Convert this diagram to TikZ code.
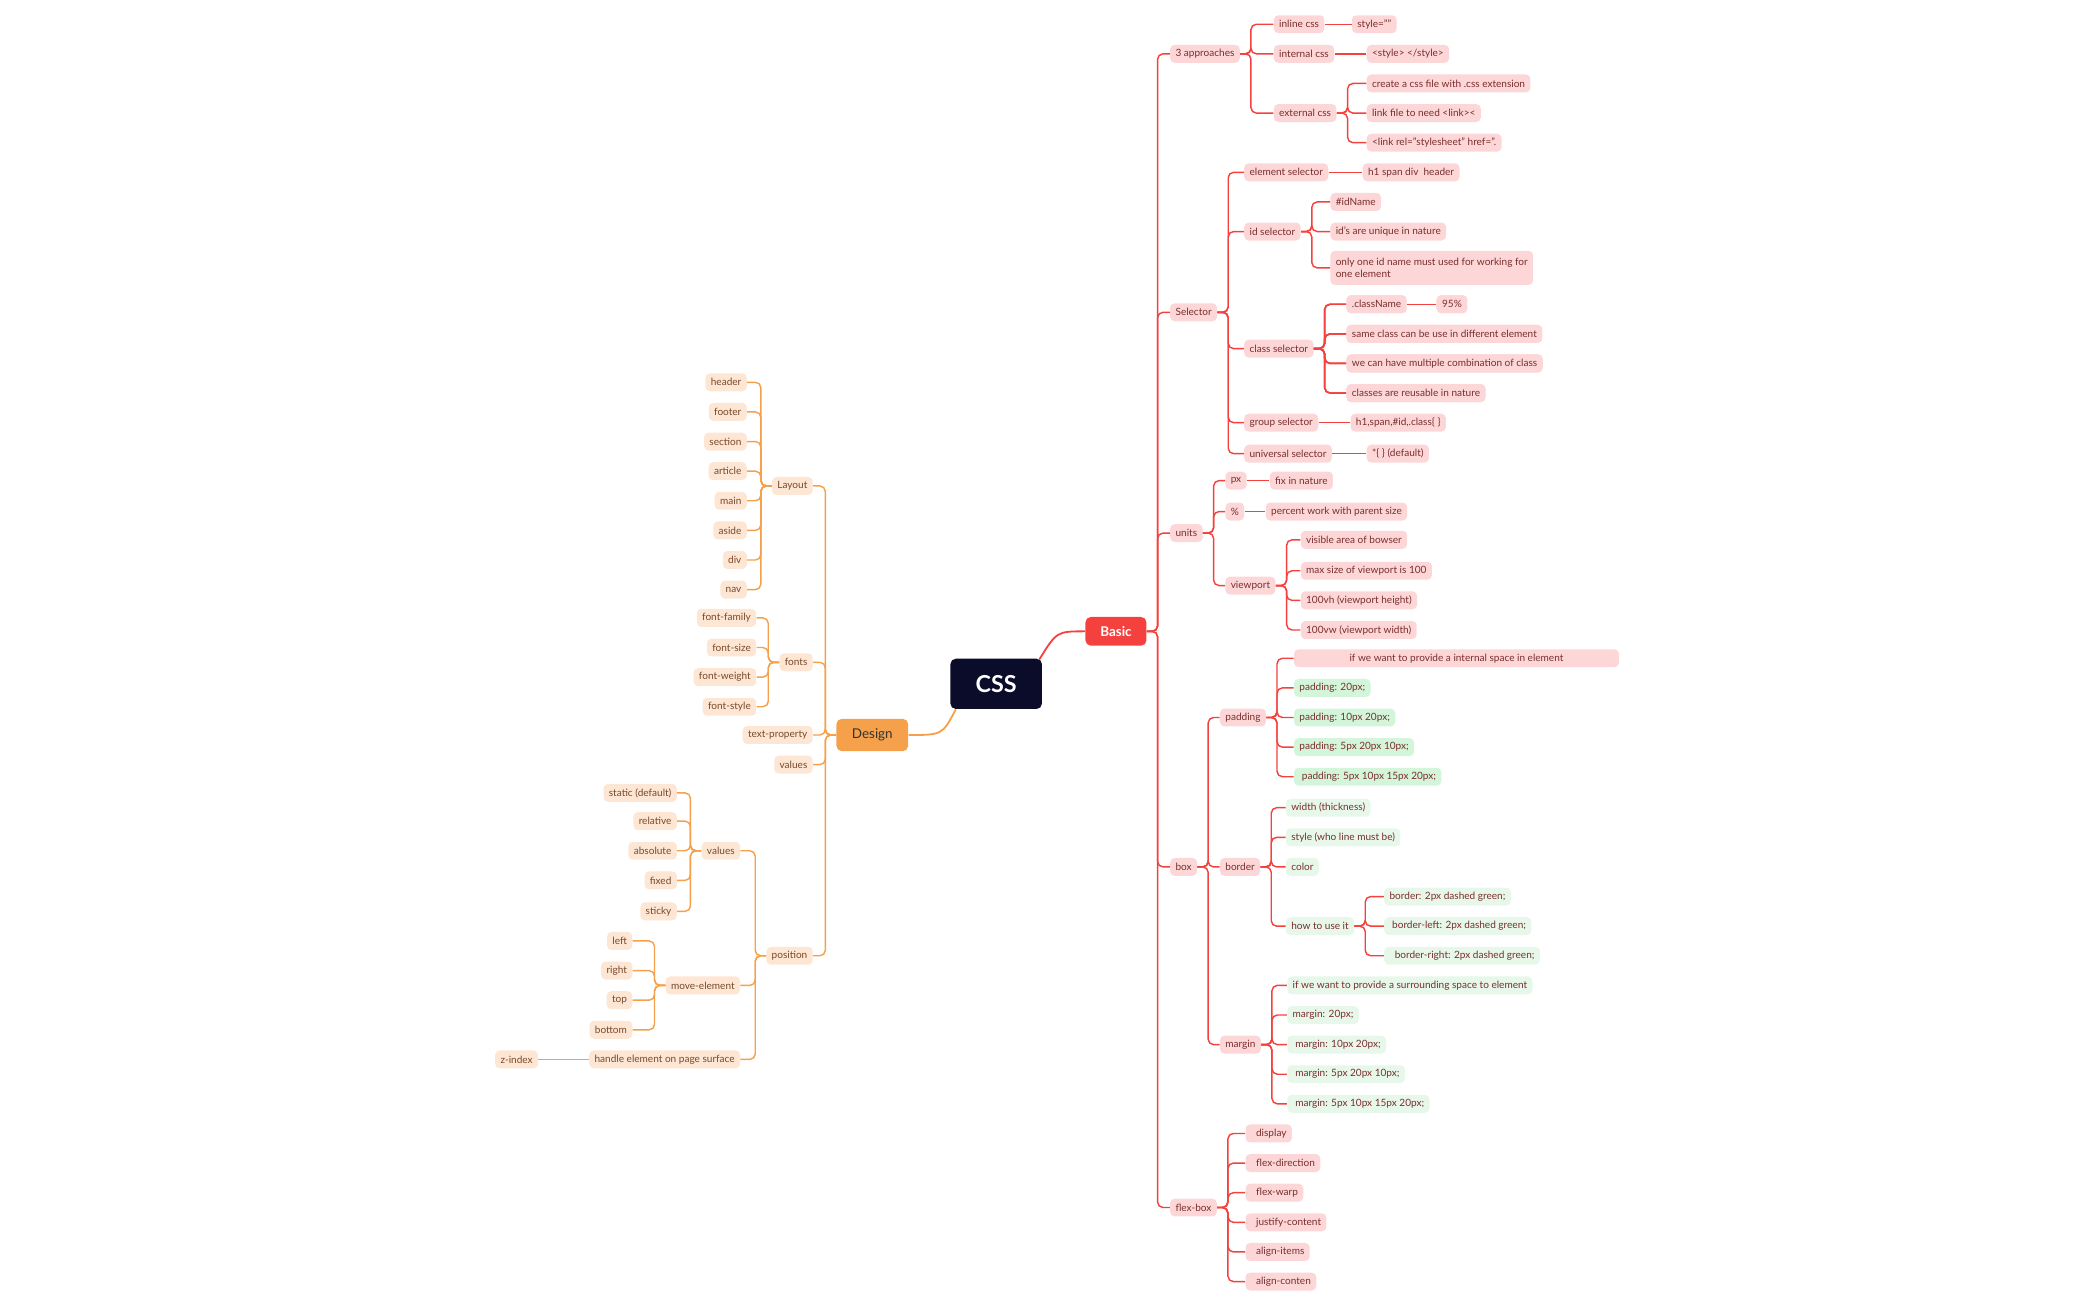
\documentclass[tikz,border=0pt]{standalone}
\usepackage{fontspec}
\setmainfont{Lato}
\usetikzlibrary{positioning}
\definecolor{redline}{HTML}{F5413D}
\definecolor{pinkfill}{HTML}{FDD7D7}
\definecolor{redtext}{HTML}{7A2E2E}
\definecolor{greenfill}{HTML}{D3F5DA}
\definecolor{lgreenfill}{HTML}{E7F8EA}
\definecolor{orangeline}{HTML}{F5A04A}
\definecolor{orangefill}{HTML}{FDE6D3}
\definecolor{orangetext}{HTML}{7A4A2A}
\definecolor{cssfill}{HTML}{0B0B2A}
\tikzset{
  base/.style={rounded corners=2.5pt,inner xsep=3pt,inner ysep=0pt,minimum height=10pt,
    font=\fontsize{5.6}{6.6}\selectfont},
  rn/.style={base,fill=pinkfill,text=redtext,anchor=west},
  gn/.style={base,fill=greenfill,text=redtext,anchor=west},
  lgn/.style={base,fill=lgreenfill,text=redtext,anchor=west},
  on/.style={base,fill=orangefill,text=orangetext,anchor=east},
  rline/.style={draw=redline,line width=0.8pt,rounded corners=3pt},
  oline/.style={draw=orangeline,line width=0.8pt,rounded corners=3pt}
}
\newcommand\rlink[2]{\draw[rline] (#1.east) -- ++(8,0) |- (#2.west);}
\newcommand\olink[2]{\draw[oline] (#1.west) -- ++(-8,0) |- (#2.east);}
\begin{document}
\begin{tikzpicture}[x=0.75pt,y=-0.75pt]
  \useasboundingbox (0,0) rectangle (1560,966);
  % centre
  \node[fill=cssfill,text=white,rounded corners=3pt,minimum width=51pt,minimum height=28pt,
    font=\fontsize{13}{15}\selectfont\bfseries] (css) at (740,508) {CSS};
  \node[fill=redline,text=white,rounded corners=3pt,minimum width=34pt,minimum height=16pt,
    font=\fontsize{7.5}{9}\selectfont\bfseries] (basic) at (829,469) {Basic};
  \node[fill=orangeline,text=black!80,rounded corners=3pt,minimum width=40pt,minimum height=18pt,
    font=\fontsize{7.5}{9}\selectfont] (design) at (648,546) {Design};
  \draw[draw=redline,line width=1pt] (772,490) .. controls (785,469) .. (basic.west);
  \draw[draw=orangeline,line width=1pt] (710,527) .. controls (700,546) .. (design.east);

  % Basic
  \foreach \n/\y/\t in {appr/40/3 approaches,sel/232/Selector,units/396/units,box/644/box,flex/897/flex-box}{
    \node[rn] (\n) at (869,\y) {\t};
    \rlink{basic}{\n}
  }
  \foreach \n/\y/\t in {inl/18/inline css,int/40/internal css,ext/84/external css}{
    \node[rn] (\n) at (946,\y) {\t};
    \rlink{appr}{\n}
  }
  \node[rn] (inlv) at (1004,18) {style=""};
  \draw[rline] (inl) -- (inlv);
  \node[rn] (intv) at (1015,40) {<style> </style>};
  \draw[rline] (int) -- (intv);
  \foreach \n/\y/\t in {ext1/62/create a css file with .css extension,ext2/84/link file to need <link></link>,
      ext3/106/<link rel="stylesheet" href="./css/main.css" />}{
    \node[rn] (\n) at (1015,\y) {\t};
    \rlink{ext}{\n}
  }
  \foreach \n/\y/\t in {elem/128/element selector,ids/172/id selector,cls/259/class selector,
      grp/314/group selector,uni/337/universal selector}{
    \node[rn] (\n) at (924,\y) {\t};
    \rlink{sel}{\n}
  }
  \node[rn] (elemv) at (1012,128) {h1 span div\ \ header};
  \draw[rline] (elem) -- (elemv);
  \node[rn] (id1) at (988,150) {\#idName};
  \node[rn] (id2) at (988,172) {id's are unique in nature};
  \node[rn,align=left,minimum height=19pt] (id3) at (988,199) {only one id name must used for working for\\one element};
  \foreach \n in {id1,id2,id3} \rlink{ids}{\n}
  \foreach \n/\y/\t in {cls1/226/.className,cls2/248/same class can be use in different element,
      cls3/270/we can have multiple combination of class,cls4/292/classes are reusable in nature}{
    \node[rn] (\n) at (1000,\y) {\t};
    \rlink{cls}{\n}
  }
  \node[rn] (clsv) at (1067,226) {95\%};
  \draw[rline] (cls1) -- (clsv);
  \node[rn] (grpv) at (1003,314) {h1,span,\#id,.class\{ \}};
  \draw[rline] (grp) -- (grpv);
  \node[rn] (univ) at (1015,337) {*\{ \} (default)};
  \draw[rline] (uni) -- (univ);
  % units
  \foreach \n/\y/\t in {px/357/px,pc/380/\%,vp/435/viewport}{
    \node[rn] (\n) at (910,\y) {\t};
    \rlink{units}{\n}
  }
  \node[rn] (pxv) at (943,357) {fix in nature};
  \draw[rline] (px) -- (pxv);
  \node[rn] (pcv) at (940,380) {percent work with parent size};
  \draw[rline] (pc) -- (pcv);
  \foreach \n/\y/\t in {vp1/401/visible area of bowser,vp2/424/max size of viewport is 100,
      vp3/446/100vh (viewport height),vp4/468/100vw (viewport width)}{
    \node[rn] (\n) at (966,\y) {\t};
    \rlink{vp}{\n}
  }
  % box
  \foreach \n/\y/\t in {pad/533/padding,brd/644/border,mrg/776/margin}{
    \node[rn] (\n) at (906,\y) {\t};
    \rlink{box}{\n}
  }
  \node[rn,minimum width=181pt] (pad1) at (961,489) {if we want to provide a internal space in element\hfill};
  \rlink{pad}{pad1}
  \foreach \n/\y/\t in {pad2/511/padding: 20px; /* top right bottom left*/,
      pad3/533/padding: 10px 20px; /* top-bottom left-right*/,
      pad4/555/padding: 5px 20px 10px; /* top left-right bottom */,
      pad5/577/\ padding: 5px 10px 15px 20px; /* top right bottom left*/}{
    \node[gn] (\n) at (961,\y) {\t};
    \rlink{pad}{\n}
  }
  \foreach \n/\y/\t in {brd1/600/width (thickness),brd2/622/style (who line must be),
      brd3/644/color,brd4/688/how to use it}{
    \node[lgn] (\n) at (955,\y) {\t};
    \rlink{brd}{\n}
  }
  \foreach \n/\y/\t in {use1/666/border: 2px dashed green;,use2/688/\ border-left: 2px dashed green;,
      use3/710/\ \ border-right: 2px dashed green;}{
    \node[lgn] (\n) at (1028,\y) {\t};
    \rlink{brd4}{\n}
  }
  \foreach \n/\y/\t in {mrg1/732/if we want to provide a surrounding space to element,
      mrg2/754/margin: 20px; /* top right bottom left*/,
      mrg3/776/\ margin: 10px 20px; /* top-bottom left-right*/,
      mrg4/798/\ margin: 5px 20px 10px; /* top left-right bottom */,
      mrg5/820/\ margin: 5px 10px 15px 20px; /* top right bottom left*/}{
    \node[lgn] (\n) at (956,\y) {\t};
    \rlink{mrg}{\n}
  }
  % flex-box
  \foreach \n/\y/\t in {fx1/842/display,fx2/864/flex-direction,fx3/886/flex-warp,
      fx4/908/justify-content,fx5/930/align-items,fx6/952/align-conten}{
    \node[rn] (\n) at (925,\y) {\ \ \t};
    \rlink{flex}{\n}
  }

  % Design
  \foreach \n/\y/\t in {lay/361/Layout,fnt/492/fonts,txt/546/text-property,val/568/values,pos/710/position}{
    \node[on] (\n) at (604,\y) {\t};
    \olink{design}{\n}
  }
  \foreach \n/\y/\t in {lay1/284/header,lay2/306/footer,lay3/328/section,lay4/350/article,
      lay5/372/main,lay6/394/aside,lay7/416/div,lay8/438/nav}{
    \node[on] (\n) at (555,\y) {\t};
    \olink{lay}{\n}
  }
  \foreach \n/\y/\t in {fnt1/459/font-family,fnt2/481/font-size,fnt3/503/font-weight,fnt4/525/font-style}{
    \node[on] (\n) at (562,\y) {\t};
    \olink{fnt}{\n}
  }
  \foreach \n/\y/\t in {pos1/632/values,pos2/732/move-element,pos3/787/handle element on page surface}{
    \node[on] (\n) at (550,\y) {\t};
    \olink{pos}{\n}
  }
  \foreach \n/\y/\t in {pv1/589/static (default),pv2/610/relative,pv3/632/absolute,pv4/654/fixed,pv5/677/sticky}{
    \node[on] (\n) at (503,\y) {\t};
    \olink{pos1}{\n}
  }
  \foreach \n/\y/\t in {mv1/699/left,mv2/721/right,mv3/743/top,mv4/765/bottom}{
    \node[on] (\n) at (470,\y) {\t};
    \olink{pos2}{\n}
  }
  \node[on] (zidx) at (400,787) {z-index};
  \draw[oline] (pos3) -- (zidx);
\end{tikzpicture}
\end{document}
